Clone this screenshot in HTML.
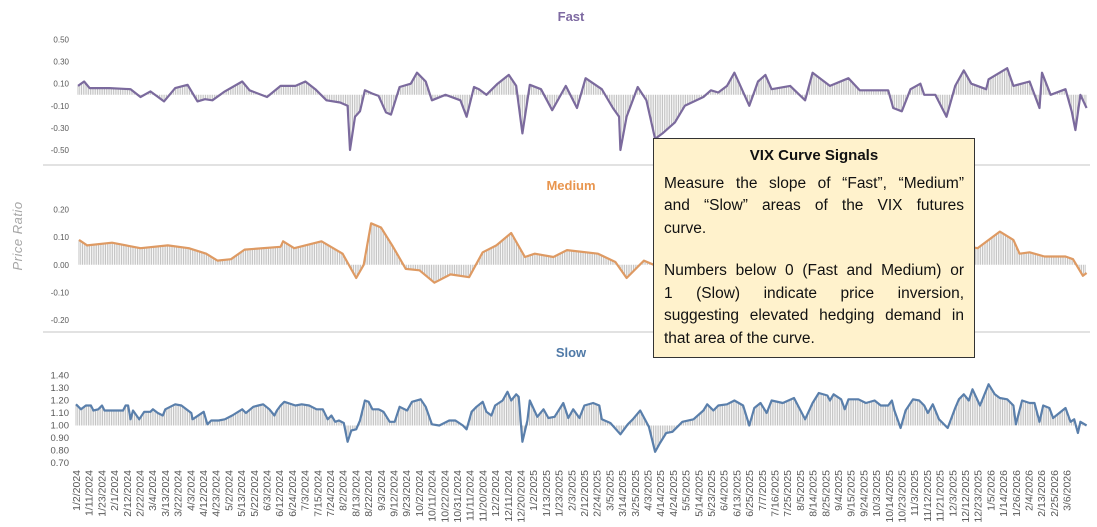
<!DOCTYPE html>
<html><head><meta charset="utf-8">
<style>
body{margin:0;background:#fff;width:1097px;height:527px;overflow:hidden;font-family:"Liberation Sans",sans-serif;position:relative}
#note{position:absolute;left:653px;top:138px;width:300px;height:198px;padding:6px 10px 14px 10px;background:#fff2cc;border:1px solid #333;font-size:15.5px;line-height:22.5px;color:#111}
#note h3{margin:0 0 5px 0;font-size:15px;text-align:center;font-weight:bold}
#note .l{text-align:justify;text-align-last:justify;white-space:nowrap}
#note .e{text-align:left}
#note .gap{height:20px}
</style></head><body>
<svg id="chart" width="1097" height="527" style="position:absolute;left:0;top:0"></svg>
<div id="note">
<h3>VIX Curve Signals</h3>
<div>
<div class="l">Measure the slope of “Fast”, “Medium”</div>
<div class="l">and “Slow” areas of the VIX futures</div>
<div class="e">curve.</div>
</div>
<div class="gap"></div>
<div>
<div class="l">Numbers below 0 (Fast and Medium) or</div>
<div class="l">1 (Slow) indicate price inversion,</div>
<div class="l">suggesting elevated hedging demand in</div>
<div class="e">that area of the curve.</div>
</div>
</div>
<script>
const dateLabels=["1/2/2024","1/11/2024","1/23/2024","2/1/2024","2/12/2024","2/22/2024","3/4/2024","3/13/2024","3/22/2024","4/3/2024","4/12/2024","4/23/2024","5/2/2024","5/13/2024","5/22/2024","6/3/2024","6/12/2024","6/24/2024","7/3/2024","7/15/2024","7/24/2024","8/2/2024","8/13/2024","8/22/2024","9/3/2024","9/12/2024","9/23/2024","10/2/2024","10/11/2024","10/22/2024","10/31/2024","11/11/2024","11/20/2024","12/2/2024","12/11/2024","12/20/2024","1/2/2025","1/13/2025","1/23/2025","2/3/2025","2/12/2025","2/24/2025","3/5/2025","3/14/2025","3/25/2025","4/3/2025","4/14/2025","4/24/2025","5/5/2025","5/14/2025","5/23/2025","6/4/2025","6/13/2025","6/25/2025","7/7/2025","7/16/2025","7/25/2025","8/5/2025","8/14/2025","8/25/2025","9/4/2025","9/15/2025","9/24/2025","10/3/2025","10/14/2025","10/23/2025","11/3/2025","11/12/2025","11/21/2025","12/3/2025","12/12/2025","12/23/2025","1/5/2026","1/14/2026","1/26/2026","2/4/2026","2/13/2026","2/25/2026","3/6/2026"];
// time in period units; labels fall every labelStep periods
const labelStep=12.7/12.4;
const fastT=[0.16,0.65,1.1,2.7,4.4,5.2,6,7.1,8,9,9.8,10.4,11,12,13.4,14,15.4,16.5,17.7,18.5,19.3,20.2,21.3,21.9,22.1,22.5,22.9,23.3,23.9,24.4,25,25.4,26.1,27,27.5,28.2,28.7,29.8,31,31.5,32.1,32.5,33.1,34,34.9,35.5,36,36.6,37.5,38.4,39.5,40.4,41.1,42.4,43.3,43.8,43.9,44.4,45.3,46,46.7,47.3,48.3,49.1,50.6,51.2,51.8,52.5,53.1,53.5,54.3,55,55.6,56.1,57.6,58.8,59.4,60.8,62.3,63.2,65.5,65.9,66.6,67.3,68.1,68.4,69.3,70.2,70.9,71.6,72.2,73.4,73.6,75.1,75.6,76.9,77.7,77.9,78.6,79.8,80.3,80.6,81,81.5];
const fastV=[0.08,0.12,0.06,0.06,0.05,-0.02,0.03,-0.06,0.06,0.09,-0.06,-0.04,-0.05,0.03,0.12,0.04,-0.02,0.08,0.08,0.12,0.05,-0.05,-0.07,-0.1,-0.5,-0.2,-0.15,0.04,0.01,-0.01,-0.16,-0.18,0.07,0.1,0.2,0.12,-0.05,0,-0.05,-0.2,0.07,0.05,0,0.1,0.18,0.08,-0.35,0.09,0.05,-0.14,0.08,-0.12,0.15,0.05,-0.12,-0.2,-0.5,-0.2,0.07,-0.05,-0.4,-0.35,-0.25,-0.1,-0.02,0.04,0.02,0.08,0.2,0.1,-0.1,0.12,0.18,0.05,0.08,-0.05,0.2,0.08,0.15,0.04,0.04,-0.12,-0.15,0.05,0.1,0,0,-0.2,0.08,0.22,0.1,0.05,0.14,0.24,0.08,0.12,-0.12,0.2,0,0.05,-0.15,-0.32,0,-0.12];
const medT=[0.24,0.9,2.9,5.2,7.4,9.1,10.5,11.4,12.5,13.6,16.5,16.7,17.6,19.8,21.5,22.6,23.2,23.8,24.6,25.5,26.6,27.7,28.9,30.2,31.7,32.8,33.9,35.1,36.2,37,38.5,39.6,42.1,43.5,44.4,45.8,46.6,48,50,52,54,56,58,60,62,64,66,68,70,71.5,72.7,74.5,75.6,76.1,76.9,78.1,79.8,80.4,81.2,81.5];
const medV=[0.09,0.07,0.08,0.06,0.07,0.06,0.04,0.015,0.02,0.055,0.065,0.085,0.06,0.085,0.04,-0.048,0,0.15,0.135,0.07,-0.015,-0.02,-0.065,-0.035,-0.045,0.045,0.07,0.115,0.028,0.04,0.028,0.053,0.04,0.01,-0.048,0.015,0,0.02,0.03,0.05,0.04,0.05,0.06,0.08,0.06,0.05,0.04,0.03,0.05,0.07,0.06,0.12,0.09,0.04,0.045,0.03,0.03,0.02,-0.04,-0.03];
const slowT=[0,0.4,0.8,1.2,1.4,1.8,2.1,2.3,3.8,4,4.2,4.4,4.6,5.1,5.5,6,6.2,6.6,7,7.2,8,8.5,9.3,9.4,10,10.3,10.6,10.9,11.5,12,12.6,13.4,13.7,14.3,14.7,15.1,15.6,16,16.2,16.5,16.8,17.7,18.2,18.8,19.4,19.9,20.3,20.6,20.9,21.2,21.6,21.9,22.2,22.6,22.9,23.3,23.6,23.9,24.4,24.8,25.3,25.7,26.1,26.7,27.1,27.8,28.2,28.7,29.3,30.1,30.6,31.2,31.5,31.9,32.3,32.8,33.1,33.5,33.8,34.4,34.8,35.1,35.5,35.7,36,36.4,36.6,37.2,37.7,38.1,38.6,39.3,39.7,40.1,40.6,41,41.7,42.2,42.4,43.1,43.9,44.5,44.9,45.5,46.2,46.7,47.1,47.6,48.1,48.9,49.8,50.6,50.9,51.4,51.8,52.5,53.1,53.8,54.3,54.7,55.2,55.7,56.1,57,57.9,58.8,59.4,59.9,60.6,60.8,61.1,61.7,62,62.3,63.1,63.7,64.4,64.9,65.5,65.8,66,66.5,66.9,67.5,68,68.4,68.7,69.1,69.6,70.3,70.9,71.2,71.6,72,72.3,72.9,73.6,74.1,74.5,75.1,75.6,75.8,76.3,76.9,77.3,77.7,78,78.5,78.8,79.8,80.2,80.5,80.8,81,81.5];
const slowV=[1.17,1.13,1.16,1.16,1.12,1.13,1.16,1.12,1.12,1.16,1.16,1.05,1.12,1.05,1.11,1.11,1.13,1.1,1.08,1.13,1.17,1.16,1.1,1.05,1.09,1.11,1.01,1.04,1.04,1.05,1.08,1.13,1.1,1.15,1.16,1.17,1.13,1.08,1.12,1.16,1.19,1.16,1.17,1.16,1.13,1.13,1.05,1.08,1.03,1.04,1.02,0.87,0.96,0.97,1.04,1.2,1.19,1.13,1.13,1.11,1.03,1.03,1.15,1.12,1.19,1.21,1.15,1.01,1,1.04,1.04,1,0.97,1.11,1.15,1.19,1.11,1.08,1.16,1.2,1.27,1.2,1.25,1.23,0.87,1.04,1.2,1.07,1.13,1.06,1.07,1.18,1.06,1.13,1.06,1.16,1.18,1.16,1.05,1.02,0.93,1.01,1.05,1.12,0.99,0.79,0.86,0.94,0.95,1.03,1.05,1.12,1.17,1.12,1.16,1.17,1.2,1.16,1,1.14,1.18,1.1,1.2,1.18,1.22,1.05,1.18,1.26,1.24,1.2,1.25,1.21,1.13,1.21,1.21,1.18,1.2,1.16,1.16,1.2,1.12,0.98,1.12,1.21,1.2,1.16,1.1,1.17,1.05,0.98,1.14,1.21,1.25,1.2,1.29,1.16,1.33,1.25,1.22,1.21,1.16,1.01,1.2,1.18,1.18,1.03,1.16,1.14,1.06,1.14,1.03,1.05,0.94,1.03,1];
const fastTicks=["0.50","0.30","0.10","-0.10","-0.30","-0.50"];
const medTicks=["0.20","0.10","0.00","-0.10","-0.20"];
const slowTicks=["1.40","1.30","1.20","1.10","1.00","0.90","0.80","0.70"];

const NS="http://www.w3.org/2000/svg";
const svg=document.getElementById('chart');
function mk(tag,attrs,parent){const e=document.createElementNS(NS,tag);for(const k in attrs)e.setAttribute(k,attrs[k]);(parent||svg).appendChild(e);return e;}
const xScale=t=>76+t*12.4;
function interp(T,V,t){if(t<=T[0])return V[0];for(let i=1;i<T.length;i++){if(t<=T[i]){const f=(t-T[i-1])/(T[i]-T[i-1]);return V[i-1]+f*(V[i]-V[i-1]);}}return V[V.length-1];}

const panels=[
 {name:'fast',T:fastT,V:fastV,ticks:fastTicks,base:0,yTop:39.5,yBot:150,vTop:0.5,vBot:-0.5,color:'#7b6a9d',title:'Fast',titleY:21,tc:'#7e6aa2',tickSize:8},
 {name:'medium',T:medT,V:medV,ticks:medTicks,base:0,yTop:209.5,yBot:320,vTop:0.2,vBot:-0.2,color:'#de9a63',title:'Medium',titleY:190,tc:'#e8954e',tickSize:8},
 {name:'slow',T:slowT,V:slowV,ticks:slowTicks,base:1,yTop:375.5,yBot:463,vTop:1.4,vBot:0.7,color:'#5a7fab',title:'Slow',titleY:357,tc:'#4f79a7',tickSize:9.5}
];
panels.forEach(p=>{
 const y=v=>p.yTop+(p.vTop-v)/(p.vTop-p.vBot)*(p.yBot-p.yTop);
 const g=mk('g',{});
 
 
 const tt=mk('text',{x:571,y:p.titleY,'text-anchor':'middle','font-size':13,'font-weight':'bold',fill:p.tc},g);
 tt.textContent=p.title;
 
 
 p.ticks.forEach((lab,i)=>{
  const v=p.vTop-i*(p.vTop-p.vBot)/(p.ticks.length-1);
  const t=mk('text',{x:69,y:y(v)+3,'text-anchor':'end','font-size':p.tickSize,fill:'#595959'},g);
  t.textContent=lab;
  
  
 });
 const bars=mk('g',{stroke:'#bdbdbd','stroke-width':0.9},g);
 
 
 const tEnd=p.T[p.T.length-1];
 for(let t=p.T[0];t<=tEnd;t+=1/7){
  const v=interp(p.T,p.V,t);
  mk('line',{x1:xScale(t),x2:xScale(t),y1:y(p.base),y2:y(v)},bars);
 }
 let d='';
 p.T.forEach((t,i)=>{d+=(i?'L':'M')+xScale(t).toFixed(1)+','+y(p.V[i]).toFixed(1);});
 const path=mk('path',{d:d,fill:'none',stroke:p.color,'stroke-width':2.2,'stroke-linejoin':'round'},g);
 
 
});
[165,332].forEach(yy=>{
 const l=mk('line',{x1:43,x2:1090,y1:yy,y2:yy,stroke:'#d9d9d9','stroke-width':1.5});
 
 
});
const yt=mk('text',{x:22,y:236,transform:'rotate(-90 22 236)','text-anchor':'middle','font-size':13,'font-style':'italic',fill:'#a6a6a6','letter-spacing':'0.5'});
yt.textContent='Price Ratio';


dateLabels.forEach((lab,i)=>{
 const x=xScale(i*labelStep)+4;
 const t=mk('text',{x:x,y:470,transform:'rotate(-90 '+x+' 470)','text-anchor':'end','font-size':10.5,fill:'#595959'});
 t.textContent=lab;
 
 
});
</script>
</body></html>
